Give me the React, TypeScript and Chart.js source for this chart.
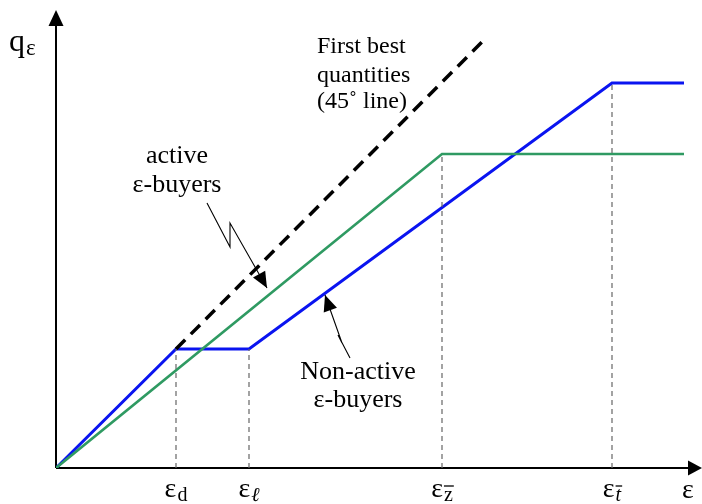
import React, { useEffect, useRef } from "react";
import { Chart, registerables } from "chart.js";

Chart.register(...registerables);

// Data (abstract units: origin at the axes' corner)
const blueX = [0, 120, 193, 556, 628];
const blueY = [0, 119, 119, 385, 385];
const greenX = [0, 386, 628];
const greenY = [0, 314, 314];
const firstBestX = [120, 430];
const firstBestY = [119, 430];
const markX = [120, 193, 386, 556];
const markY = [119, 119, 314, 385];
const markMain = ["ε", "ε", "ε", "ε"];
const markSub = ["d", "ℓ", "z", "t"];
const markOverline = [false, false, true, true];
const axisLabelX = "ε";
const axisLabelYMain = "q";
const axisLabelYSub = "ε";
const firstBestText = ["First best", "quantities", "(45˚ line)"];
const activeText = ["active", "ε-buyers"];
const nonActiveText = ["Non-active", "ε-buyers"];

const X_MAX = 646;
const Y_MAX = 458;

const toPts = (xs: number[], ys: number[]) => xs.map((x, i) => ({ x, y: ys[i] }));

const SERIF = "'Liberation Serif', 'DejaVu Serif', serif";

function arrowHead(ctx: CanvasRenderingContext2D, fx: number, fy: number, tx: number, ty: number, len: number, half: number) {
  const a = Math.atan2(ty - fy, tx - fx);
  ctx.beginPath();
  ctx.moveTo(tx, ty);
  ctx.lineTo(tx - len * Math.cos(a) + half * Math.sin(a), ty - len * Math.sin(a) - half * Math.cos(a));
  ctx.lineTo(tx - len * Math.cos(a) - half * Math.sin(a), ty - len * Math.sin(a) + half * Math.cos(a));
  ctx.closePath();
  ctx.fill();
}

const decorPlugin = {
  id: "decor",
  beforeDatasetsDraw(chart: any) {
    const { ctx, scales } = chart;
    const px = (v: number) => scales.x.getPixelForValue(v);
    const py = (v: number) => scales.y.getPixelForValue(v);
    ctx.save();
    ctx.strokeStyle = "#000";
    ctx.fillStyle = "#000";
    ctx.lineWidth = 2;
    // y axis
    ctx.beginPath();
    ctx.moveTo(px(0), py(0));
    ctx.lineTo(px(0), py(Y_MAX) + 12);
    ctx.stroke();
    arrowHead(ctx, px(0), py(0), px(0), py(Y_MAX), 16, 7.5);
    // x axis
    ctx.beginPath();
    ctx.moveTo(px(0), py(0));
    ctx.lineTo(px(X_MAX) - 12, py(0));
    ctx.stroke();
    arrowHead(ctx, px(0), py(0), px(X_MAX), py(0), 14, 7.5);
    ctx.restore();
  },
  afterDraw(chart: any) {
    const { ctx, scales } = chart;
    const px = (v: number) => scales.x.getPixelForValue(v);
    const py = (v: number) => scales.y.getPixelForValue(v);
    ctx.save();
    ctx.fillStyle = "#000";
    ctx.strokeStyle = "#000";
    ctx.textBaseline = "alphabetic";

    // axis labels
    ctx.font = `32px ${SERIF}`;
    ctx.textAlign = "left";
    ctx.fillText(axisLabelYMain, px(-47), py(417));
    ctx.font = `23px ${SERIF}`;
    ctx.fillText(axisLabelYSub, px(-30), py(413));

    ctx.font = `28px ${SERIF}`;
    ctx.textAlign = "center";
    ctx.fillText(axisLabelX, px(632), py(-30));

    // mark labels
    markX.forEach((mx, i) => {
      const subFont = markSub[i] === "d" || markSub[i] === "z" ? `20px ${SERIF}` : `italic 20px ${SERIF}`;
      ctx.font = `28px ${SERIF}`;
      const mw = ctx.measureText(markMain[i]).width;
      ctx.font = subFont;
      const sw = ctx.measureText(markSub[i]).width;
      const total = mw + sw + 1;
      const x0 = px(mx) - total / 2;
      const base = py(-29);
      ctx.textAlign = "left";
      ctx.font = `28px ${SERIF}`;
      ctx.fillText(markMain[i], x0, base);
      ctx.font = subFont;
      ctx.fillText(markSub[i], x0 + mw + 1, base + 4);
      if (markOverline[i]) {
        ctx.lineWidth = 1.3;
        ctx.beginPath();
        ctx.moveTo(x0 + mw + 1, base - 11);
        ctx.lineTo(x0 + mw + 2 + sw, base - 11);
        ctx.stroke();
      }
    });

    // text annotations
    ctx.textBaseline = "middle";
    ctx.font = `24px ${SERIF}`;
    ctx.textAlign = "left";
    const fbY = [421, 392, 366];
    firstBestText.forEach((t, i) => ctx.fillText(t, px(261), py(fbY[i])));
    ctx.font = `26px ${SERIF}`;
    ctx.textAlign = "center";
    const acY = [312, 283];
    activeText.forEach((t, i) => ctx.fillText(t, px(121), py(acY[i])));
    const naY = [96, 68];
    nonActiveText.forEach((t, i) => ctx.fillText(t, px(302), py(naY[i])));

    // lightning callouts
    ctx.lineWidth = 1.1;
    const bolt = (pts: number[][]) => {
      ctx.beginPath();
      pts.forEach((p, i) => {
        const X = px(p[0]);
        const Y = py(p[1]);
        if (i === 0) ctx.moveTo(X, Y);
        else ctx.lineTo(X, Y);
      });
      ctx.stroke();
      const n = pts.length;
      arrowHead(ctx, px(pts[n - 2][0]), py(pts[n - 2][1]), px(pts[n - 1][0]), py(pts[n - 1][1]), 16, 7);
    };
    bolt([
      [151, 265],
      [174, 221],
      [174, 245],
      [211, 180],
    ]);
    bolt([
      [294, 110],
      [282, 133],
      [286, 125],
      [269, 173],
    ]);
    ctx.restore();
  },
};

export default function App() {
  const ref = useRef<HTMLCanvasElement | null>(null);
  useEffect(() => {
    if (!ref.current) return;
    const guide = (i: number) => ({
      data: [
        { x: markX[i], y: 0 },
        { x: markX[i], y: markY[i] },
      ],
      borderColor: "#666",
      borderWidth: 1.2,
      borderDash: [5, 4],
      pointRadius: 0,
      fill: false,
    });
    const chart = new Chart(ref.current, {
      type: "line",
      data: {
        datasets: [
          ...markX.map((_, i) => guide(i)),
          {
            data: toPts(firstBestX, firstBestY),
            borderColor: "#000",
            borderWidth: 3.5,
            borderDash: [13, 8],
            pointRadius: 0,
            fill: false,
          },
          {
            data: toPts(greenX, greenY),
            borderColor: "#2F9A62",
            borderWidth: 2.6,
            pointRadius: 0,
            fill: false,
          },
          {
            data: toPts(blueX, blueY),
            borderColor: "#0A14F0",
            borderWidth: 3,
            pointRadius: 0,
            fill: false,
          },
        ],
      },
      options: {
        animation: false,
        responsive: false,
        devicePixelRatio: 1,
        layout: { padding: { left: 56, top: 10, right: 0, bottom: 36 } },
        plugins: { legend: { display: false }, tooltip: { enabled: false } },
        elements: { line: { tension: 0, borderCapStyle: "butt", borderJoinStyle: "miter" } },
        scales: {
          x: { type: "linear", min: 0, max: X_MAX, display: false },
          y: { type: "linear", min: 0, max: Y_MAX, display: false },
        },
      },
      plugins: [decorPlugin],
    });
    return () => chart.destroy();
  }, []);
  return (
    <div style={{ position: "fixed", left: 0, top: 0, width: 702, height: 504, background: "#fff" }}>
      <canvas ref={ref} width={702} height={504} />
    </div>
  );
}
